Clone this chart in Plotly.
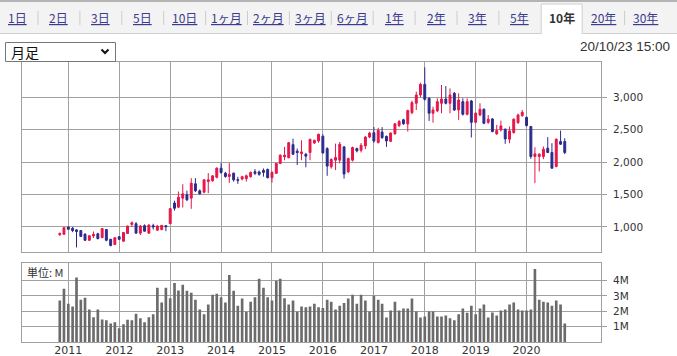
import pandas as pd
import plotly.graph_objects as go

# ---------------- data ----------------
months = pd.date_range("2010-11-01", periods=120, freq="MS")

open_ = [880, 887, 1000, 980, 955, 945, 890, 795, 862, 895,
         835, 960, 810, 730, 850, 780, 900, 1040, 1050, 905,
         1020, 905, 1020, 950, 960, 1020, 1051, 1370, 1306, 1445,
         1496, 1445, 1666, 1558, 1537, 1702, 1712, 1768, 1907, 1830,
         1780, 1830, 1730, 1740, 1745, 1776, 1852, 1850, 1873, 1888,
         1760, 1827, 1980, 2082, 2067, 2270, 2170, 2133, 2122, 2148,
         2296, 2327, 2398, 2209, 1929, 2031, 2031, 2235, 1852, 2031,
         2209, 2184, 2250, 2388, 2454, 2301, 2464, 2398, 2321, 2439,
         2566, 2653, 2590, 2764, 2908, 3036, 3200, 2985, 2754, 2790,
         2908, 2974, 2908, 3062, 2805, 2933, 2738, 2944, 2615, 2728,
         2815, 2615, 2667, 2436, 2497, 2508, 2354, 2456, 2610, 2718,
         2692, 2549, 2087, 2087, 2087, 2215, 2149, 1933, 2318, 2318]
high = [915, 995, 1005, 1000, 965, 950, 900, 870, 930, 910,
        980, 970, 815, 840, 860, 920, 1020, 1085, 1075, 1030,
        1040, 1040, 1050, 1030, 1030, 1025, 1290, 1406, 1547, 1660,
        1560, 1753, 1753, 1580, 1740, 1830, 1800, 1920, 1985, 1850,
        1985, 1840, 1775, 1790, 1810, 1855, 1893, 1870, 1903, 1900,
        1860, 1990, 2120, 2235, 2310, 2362, 2210, 2337, 2143, 2362,
        2345, 2440, 2430, 2230, 2060, 2286, 2311, 2250, 2070, 2240,
        2225, 2295, 2400, 2470, 2541, 2530, 2541, 2410, 2460, 2600,
        2650, 2670, 2810, 2949, 3087, 3226, 3462, 3000, 2856, 2985,
        3190, 3174, 3138, 3082, 3062, 2985, 2985, 2960, 2770, 2908,
        2830, 2728, 2680, 2574, 2641, 2520, 2549, 2677, 2750, 2805,
        2700, 2560, 2230, 2138, 2241, 2385, 2292, 2365, 2487, 2369]
low = [865, 885, 960, 920, 685, 845, 785, 785, 830, 810,
       830, 780, 700, 720, 800, 775, 895, 1000, 900, 875,
       930, 895, 960, 945, 950, 935, 1045, 1252, 1290, 1300,
       1400, 1280, 1540, 1500, 1520, 1522, 1700, 1750, 1820, 1760,
       1680, 1700, 1665, 1720, 1700, 1760, 1800, 1790, 1776, 1750,
       1684, 1820, 1970, 2030, 2060, 2110, 1955, 2030, 1920, 2030,
       2280, 2300, 2130, 1790, 1900, 1878, 1980, 1745, 1830, 2010,
       2150, 2150, 2200, 2370, 2300, 2290, 2360, 2235, 2310, 2420,
       2540, 2575, 2472, 2740, 2805, 3000, 2950, 2636, 2610, 2770,
       2754, 2890, 2754, 2790, 2651, 2720, 2720, 2380, 2600, 2710,
       2585, 2590, 2460, 2420, 2472, 2282, 2292, 2440, 2590, 2700,
       2550, 2051, 1676, 1856, 2046, 2140, 1900, 1920, 2265, 2123]
close = [900, 990, 965, 945, 930, 855, 795, 865, 885, 820,
         975, 795, 715, 835, 810, 915, 1015, 1065, 905, 1015,
         935, 1030, 1000, 1015, 1025, 1005, 1283, 1288, 1460, 1511,
         1419, 1676, 1558, 1511, 1727, 1727, 1789, 1907, 1840, 1779,
         1810, 1727, 1720, 1776, 1790, 1842, 1827, 1812, 1842, 1760,
         1842, 1980, 2107, 2107, 2300, 2122, 2148, 2158, 2092, 2352,
         2337, 2430, 2143, 1939, 2041, 2072, 2276, 1817, 2056, 2225,
         2174, 2260, 2388, 2449, 2327, 2490, 2378, 2327, 2449, 2592,
         2627, 2592, 2795, 2918, 3036, 3200, 2969, 2754, 2805, 2933,
         2974, 2908, 3036, 2805, 2959, 2738, 2933, 2615, 2754, 2815,
         2600, 2662, 2472, 2487, 2559, 2359, 2482, 2662, 2728, 2769,
         2564, 2087, 2128, 2123, 2200, 2149, 1907, 2354, 2277, 2149]
volume_m = [2.70, 3.47, 2.50, 2.31, 4.20, 2.76, 2.89, 2.12, 1.62, 2.12,
            1.47, 1.41, 1.21, 1.28, 0.89, 1.15, 1.45, 1.41, 1.84, 1.54,
            1.28, 1.62, 1.81, 3.54, 2.57, 3.54, 2.85, 3.84, 3.36, 3.73,
            3.34, 3.21, 2.76, 2.12, 1.81, 2.44, 3.08, 3.15, 2.91, 2.57,
            4.37, 3.34, 2.37, 2.83, 1.97, 2.63, 2.91, 4.12, 3.54, 2.91,
            2.70, 3.99, 4.12, 2.85, 2.44, 2.70, 1.97, 2.31, 2.27, 2.31,
            2.50, 2.27, 2.21, 2.76, 2.63, 2.12, 2.37, 2.54, 2.83, 3.08,
            2.50, 3.08, 2.70, 1.99, 3.02, 2.76, 2.50, 1.60, 2.06, 2.63,
            2.06, 2.18, 2.18, 2.83, 1.99, 1.60, 1.66, 1.99, 1.99, 1.66,
            1.66, 1.73, 1.54, 1.41, 1.81, 2.18, 1.90, 2.37, 1.81, 2.18,
            2.44, 1.60, 1.92, 1.73, 2.06, 2.12, 2.44, 2.57, 2.12, 2.06,
            2.06, 2.12, 4.76, 2.76, 2.63, 2.57, 2.37, 2.70, 2.44, 1.21]
volume = [v * 1e6 for v in volume_m]

year_ticks = [f"{y}-01-01" for y in range(2011, 2021)]
year_labels = [str(y) for y in range(2011, 2021)]
price_ticks = [1000, 1500, 2000, 2500, 3000]
vol_ticks = [1e6, 2e6, 3e6, 4e6]
vol_tick_text = ["1M", "2M", "3M", "4M"]
tabs = ["1日", "2日", "3日", "5日", "10日", "1ヶ月", "2ヶ月", "3ヶ月", "6ヶ月",
        "1年", "2年", "3年", "5年", "10年", "20年", "30年"]
selected_tab = "10年"
period_label = "月足"
timestamp = "20/10/23 15:00"
unit_label = "単位: M"

# ---------------- style ----------------
W, H = 677, 356
ML, MR, MT, MB = 22, 76, 62, 14
PW, PH = W - ML - MR, H - MT - MB
RED = "#e6164a"
NAVY = "#2b2a8c"
GRID = "#a0a0a0"
BARC = "#6b6b6b"
TXT = "#333333"
LINK = "#3b3b8f"
CJK = "Noto Sans CJK JP"
NUM = "DejaVu Sans"


def X(px):
    return (px - ML) / PW


def Y(py):
    return (H - MB - py) / PH


fig = go.Figure()
fig.add_trace(go.Candlestick(
    x=months, open=open_, high=high, low=low, close=close,
    increasing=dict(line=dict(color=RED, width=1), fillcolor=RED),
    decreasing=dict(line=dict(color=NAVY, width=1), fillcolor=NAVY),
    whiskerwidth=0, xaxis="x", yaxis="y", showlegend=False, hoverinfo="skip"))
fig.add_trace(go.Bar(
    x=months, y=volume, width=[19 * 86400000] * len(months),
    marker=dict(color=BARC, line=dict(width=0)),
    xaxis="x2", yaxis="y2", showlegend=False, hoverinfo="skip"))

xcommon = dict(type="date", range=["2010-02-03", "2021-06-18"], showgrid=True,
               gridcolor=GRID, gridwidth=1, tickmode="array",
               tickvals=year_ticks, ticktext=year_labels,
               showline=True, mirror=True, linecolor=GRID, linewidth=1,
               zeroline=False, ticks="", fixedrange=True, automargin=False)

fig.update_layout(
    width=W, height=H, autosize=False,
    margin=dict(l=ML, r=MR, t=MT, b=MB, pad=0, autoexpand=False),
    paper_bgcolor="white", plot_bgcolor="white",
    boxgap=0.3, hovermode=False,
    xaxis=dict(xcommon, domain=[0, 1], anchor="y", showticklabels=False,
               rangeslider=dict(visible=False)),
    xaxis2=dict(xcommon, domain=[0, 1], anchor="y2", matches="x",
                ticklabelstandoff=-2,
                tickfont=dict(family=NUM, size=11, color=TXT)),
    yaxis=dict(domain=[Y(252), 1], side="right", range=[614, 3545],
               tickvals=price_ticks, tickformat=",d", showgrid=True,
               gridcolor=GRID, showline=True, mirror=True, linecolor=GRID,
               ticks="outside", ticklen=5, tickcolor=GRID, zeroline=False,
               ticklabelstandoff=4, automargin=False, fixedrange=True,
               tickfont=dict(family=NUM, size=10.5, color=TXT)),
    yaxis2=dict(domain=[0, Y(263.3)], side="right", range=[0, 5.13e6],
                tickvals=vol_ticks, ticktext=vol_tick_text, showgrid=True,
                gridcolor=GRID, showline=True, mirror=True, linecolor=GRID,
                ticks="outside", ticklen=5, tickcolor=GRID, zeroline=False,
                ticklabelstandoff=4, automargin=False, fixedrange=True,
                tickfont=dict(family=NUM, size=10.5, color=TXT)),
)

shapes = []
# tab bar
shapes.append(dict(type="rect", xref="paper", yref="paper", x0=X(0), x1=X(677),
                   y0=Y(33), y1=Y(0), fillcolor="#f3f3f3", line=dict(width=0),
                   layer="below"))
shapes.append(dict(type="line", xref="paper", yref="paper", x0=X(0), x1=X(677),
                   y0=Y(1), y1=Y(1), line=dict(color="#b4b4b4", width=2)))
shapes.append(dict(type="line", xref="paper", yref="paper", x0=X(0), x1=X(677),
                   y0=Y(33.5), y1=Y(33.5), line=dict(color="#cfcfcf", width=1)))
sel = tabs.index(selected_tab)
cx = [17 + 41.9 * i for i in range(len(tabs))]
sx0, sx1 = cx[sel] - 20.5, cx[sel] + 20.5
shapes.append(dict(type="path", xref="paper", yref="paper",
                   path=f"M {X(sx0)} {Y(34)} L {X(sx0)} {Y(4)} L {X(sx1)} {Y(4)} L {X(sx1)} {Y(34)}",
                   fillcolor="white", line=dict(color="#cfcfcf", width=1)))
for i in range(len(tabs) - 1):
    if i in (sel - 1, sel):
        continue
    sx = cx[i] + 21
    shapes.append(dict(type="line", xref="paper", yref="paper", x0=X(sx), x1=X(sx),
                       y0=Y(11), y1=Y(25), line=dict(color="#cccccc", width=1)))
# dropdown
shapes.append(dict(type="rect", xref="paper", yref="paper", x0=X(5.5), x1=X(115.5),
                   y0=Y(61.5), y1=Y(42.5), fillcolor="white",
                   line=dict(color="#767676", width=1)))
shapes.append(dict(type="path", xref="paper", yref="paper",
                   path=f"M {X(101.5)} {Y(49.5)} L {X(105)} {Y(53)} L {X(108.5)} {Y(49.5)}",
                   line=dict(color="#111111", width=2)))
fig.update_layout(shapes=shapes)

ann = []
for i, t in enumerate(tabs):
    if i == sel:
        txt, col = f"<b>{t}</b>", TXT
    else:
        txt, col = f"<u>{t}</u>", LINK
    ann.append(dict(text=txt, x=X(cx[i]), y=Y(18), xref="paper", yref="paper",
                    xanchor="center", yanchor="middle", showarrow=False,
                    font=dict(family=CJK, size=12, color=col)))
ann.append(dict(text=period_label, x=X(9), y=Y(52), xref="paper", yref="paper",
                xanchor="left", yanchor="middle", showarrow=False,
                font=dict(family=CJK, size=14, color="#111111")))
ann.append(dict(text=timestamp, x=X(672), y=Y(47), xref="paper", yref="paper",
                xanchor="right", yanchor="middle", showarrow=False,
                font=dict(family="Liberation Sans", size=13.5, color=TXT)))
ann.append(dict(text=unit_label, x=X(25), y=Y(271.5), xref="paper", yref="paper",
                xanchor="left", yanchor="middle", showarrow=False,
                font=dict(family=CJK, size=11, color=TXT)))
fig.update_layout(annotations=ann)

fig.write_html("out.html",
               config={"displayModeBar": False, "staticPlot": True},
               post_script="document.body.style.margin='0px';"
                           "document.body.style.padding='0px';"
                           "document.documentElement.style.overflow='hidden';")
